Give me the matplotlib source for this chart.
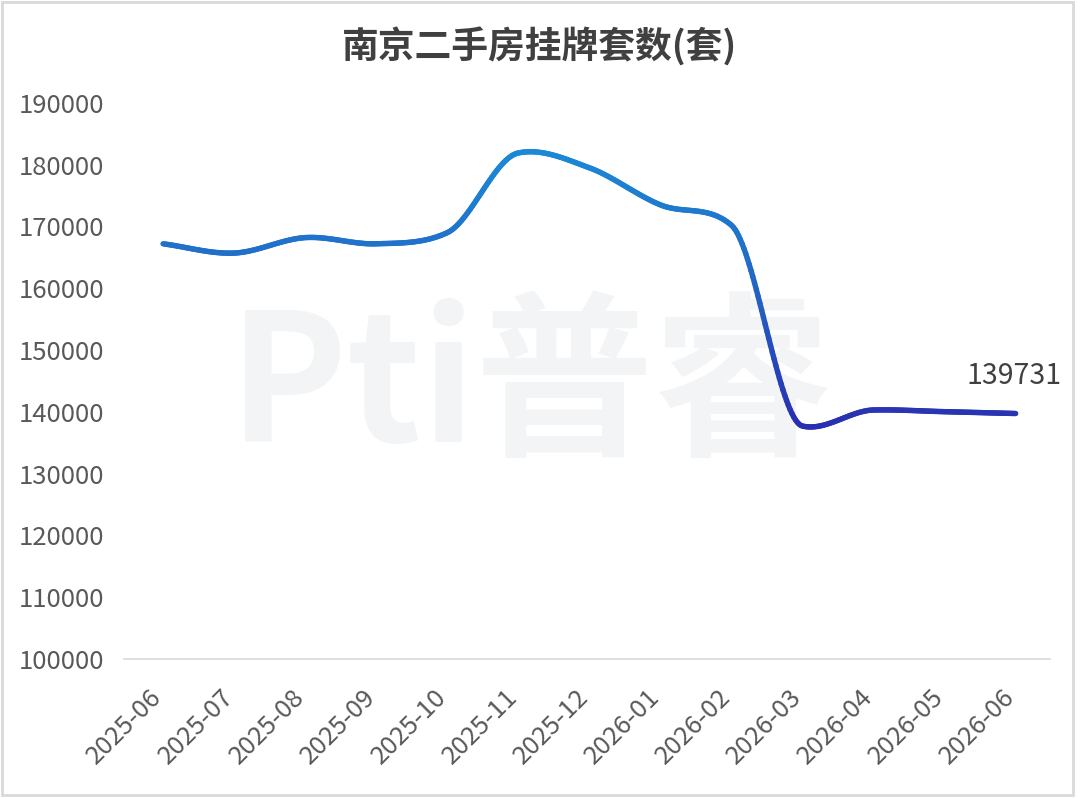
import numpy as np
import matplotlib
matplotlib.use('Agg')
import matplotlib.pyplot as plt
import matplotlib.transforms as mtransforms
from matplotlib.collections import LineCollection
from matplotlib.colors import LinearSegmentedColormap, Normalize
from matplotlib.patches import Rectangle

plt.rcParams['font.family'] = ['Noto Sans CJK SC', 'DejaVu Sans']

months = ['2025-06', '2025-07', '2025-08', '2025-09', '2025-10', '2025-11', '2025-12',
          '2026-01', '2026-02', '2026-03', '2026-04', '2026-05', '2026-06']
listings = [167200, 165700, 168200, 167200, 169000, 181900, 179500,
            173500, 170200, 137700, 140300, 140030, 139731]
y_ticks = list(range(100000, 190001, 10000))
title = '南京二手房挂牌套数(套)'
last_label = '139731'


def smooth_line(ys, steps=40):
    # hermite curve, catmull-rom slopes limited so it barely overshoots
    ys = np.asarray(ys, dtype=float)
    s = np.diff(ys)
    n = len(ys)
    m = np.zeros(n)
    m[0], m[-1] = s[0], s[-1]
    for i in range(1, n - 1):
        cr = (s[i - 1] + s[i]) / 2
        lo = min(abs(s[i - 1]), abs(s[i]))
        if s[i - 1] * s[i] < 0:
            m[i] = np.sign(cr) * min(abs(cr), lo)
        else:
            m[i] = np.sign(cr) * min(abs(cr), 3 * lo)
    t = np.linspace(0, 1, steps, endpoint=False)
    h00 = 2 * t ** 3 - 3 * t ** 2 + 1
    h10 = t ** 3 - 2 * t ** 2 + t
    h01 = -2 * t ** 3 + 3 * t ** 2
    h11 = t ** 3 - t ** 2
    xs, out = [], []
    for i in range(n - 1):
        xs.append(i + t)
        out.append(h00 * ys[i] + h10 * m[i] + h01 * ys[i + 1] + h11 * m[i + 1])
    xs.append([n - 1])
    out.append([ys[-1]])
    return np.concatenate(xs), np.concatenate(out)


fig = plt.figure(figsize=(10.8, 7.99), dpi=100)
ax = fig.add_axes([0.1148, 0.1752, 0.8572, 0.696])

# faint watermark
fig.text(0.491, 0.512, 'Pti普睿', fontsize=128, fontweight='bold', color='#f3f4f6',
         ha='center', va='center', style='italic', zorder=-1)

ax.set_xlim(-0.55, 12.48)
ax.set_ylim(100000, 190000)

x = np.arange(len(months), dtype=float)
cx, cy = smooth_line(listings)
pts = np.column_stack([cx, cy]).reshape(-1, 1, 2)
segs = np.concatenate([pts[:-1], pts[1:]], axis=1)
cmap = LinearSegmentedColormap.from_list('blu', ['#2a2db0', '#2366c4', '#1b8ad8'])
lc = LineCollection(segs, cmap=cmap, norm=Normalize(137000, 183000),
                    linewidth=3.9, capstyle='round', joinstyle='round')
lc.set_array((cy[:-1] + cy[1:]) / 2)
ax.add_collection(lc)

ax.annotate(last_label, (x[-1], listings[-1]), xytext=(-1, 27), textcoords='offset points',
            ha='center', va='center', fontsize=20.5, color='#404040', fontweight='medium')

ax.set_yticks(y_ticks)
ax.set_yticklabels([str(v) for v in y_ticks], fontweight='medium')
ax.set_xticks(x)
ax.set_xticklabels(months, rotation=45, ha='right', rotation_mode='anchor',
                   fontweight='medium')
ax.tick_params(axis='both', length=0, labelsize=18.5, labelcolor='#595959')
ax.tick_params(axis='y', pad=14)
ax.tick_params(axis='x', pad=18)
shift = mtransforms.ScaledTranslation(-14 / 100, 0, fig.dpi_scale_trans)
for lab in ax.get_xticklabels():
    lab.set_transform(lab.get_transform() + shift)
for side in ['top', 'right', 'left']:
    ax.spines[side].set_visible(False)
ax.spines['bottom'].set_color('#d9d9d9')
ax.spines['bottom'].set_linewidth(1.2)
ax.patch.set_alpha(0)

fig.text(0.5, 0.941, title, ha='center', va='center', fontsize=26.5,
         fontweight='bold', color='#404040')

fig.patches.append(Rectangle((0.002, 0.005), 0.9915, 0.993, transform=fig.transFigure,
                             fill=False, edgecolor='#d9d9d9', linewidth=2))

fig.savefig('out.png', dpi=100)
